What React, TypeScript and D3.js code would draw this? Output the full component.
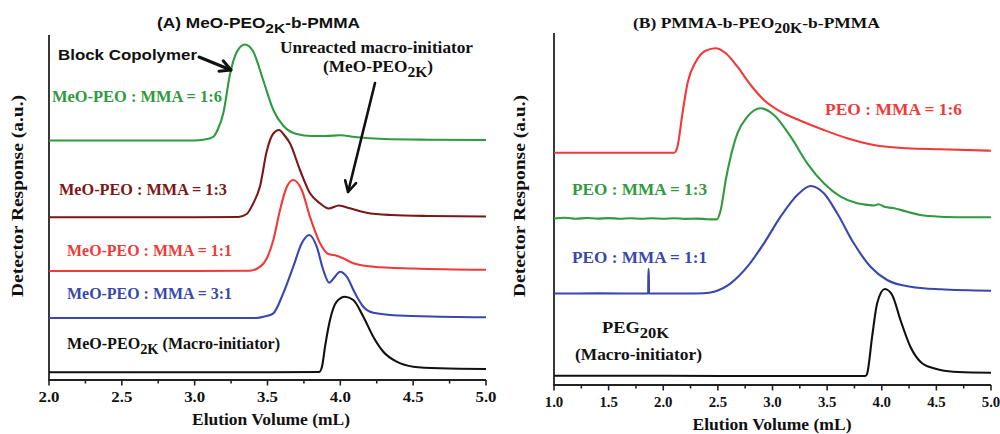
import React from "react";
import * as d3 from "d3";

// ---------- Data (elution volume in mL, detector response in a.u.) ----------
// Panel A: MeO-PEO2K-b-PMMA
const a16: [number, number][] = [
  [2.0, 239.5], [2.5, 239.5], [3.0, 239.5], [3.06, 240.3], [3.1, 241.5], [3.13, 243.5], [3.16, 251],
  [3.197, 267], [3.243, 306], [3.289, 328], [3.345, 335.5], [3.4, 329], [3.47, 300], [3.54, 270],
  [3.61, 254], [3.7, 246], [3.8, 244], [3.9, 244], [4.0, 244.8], [4.1, 243], [4.3, 241], [4.6, 240.3], [5.0, 240],
];
const a13: [number, number][] = [
  [2.0, 162.7], [3.0, 162.7], [3.3, 163], [3.357, 166], [3.4, 176], [3.449, 194], [3.495, 229],
  [3.54, 246.5], [3.579, 250], [3.62, 244], [3.654, 236.7], [3.723, 210], [3.792, 186.7], [3.86, 176.7],
  [3.92, 171.5], [3.99, 174.5], [4.066, 171.7], [4.18, 167.3], [4.35, 165], [4.6, 164], [5.0, 163.5],
];
const a11: [number, number][] = [
  [2.0, 109], [3.0, 109], [3.38, 109.3], [3.43, 111.5], [3.47, 116], [3.5, 123], [3.54, 140],
  [3.586, 170], [3.632, 193], [3.677, 200], [3.735, 190], [3.792, 163], [3.86, 137], [3.917, 126],
  [3.975, 124.3], [4.02, 121.7], [4.089, 116.7], [4.226, 113.3], [4.5, 111.5], [5.0, 110.2],
];
const a31: [number, number][] = [
  [2.0, 62], [3.0, 62], [3.42, 62], [3.48, 63.5], [3.54, 66.7], [3.608, 86.7], [3.677, 113.3],
  [3.735, 136.7], [3.787, 145], [3.838, 133.3], [3.883, 110], [3.924, 97.3], [3.963, 103.3],
  [3.998, 108.3], [4.044, 103.3], [4.101, 86.7], [4.158, 73.3], [4.226, 67.3], [4.4, 64.5], [4.684, 63.3], [5.0, 62.7],
];
const aMacro: [number, number][] = [
  [2.0, 7.7], [3.0, 7.7], [3.5, 7.8], [3.855, 8], [3.875, 14], [3.895, 33.3], [3.929, 60], [3.975, 78.3],
  [4.032, 83.3], [4.089, 80], [4.158, 63.3], [4.226, 43.3], [4.295, 28.3], [4.387, 18.3], [4.501, 13.3],
  [4.684, 11.7], [5.0, 11],
];

// Panel B: PMMA-b-PEO20K-b-PMMA
const b16: [number, number][] = [
  [1.0, 232.3], [2.0, 232.3], [2.1, 232.3], [2.13, 238.3], [2.176, 271.7], [2.222, 301.7], [2.298, 323.3],
  [2.389, 334.3], [2.48, 336.7], [2.572, 331.7], [2.679, 318.3], [2.8, 300], [2.922, 285], [3.074, 273.3],
  [3.257, 264.3], [3.47, 255], [3.684, 246.7], [3.927, 240], [4.232, 236.7], [4.537, 235.7], [5.0, 234.3],
];
const b13: [number, number][] = [
  [1.0, 166.5], [1.1, 167.2], [1.2, 166.2], [1.3, 167], [1.4, 166.4], [1.5, 166.9], [1.6, 166.3],
  [1.7, 166.8], [1.8, 166.2], [1.9, 166.7], [2.0, 166.3], [2.1, 166.8], [2.2, 166.1], [2.3, 166.4],
  [2.4, 165.8], [2.49, 165.6], [2.526, 175], [2.572, 205], [2.617, 228.3], [2.679, 251.7], [2.77, 268.3],
  [2.892, 276.7], [3.013, 270], [3.166, 248.3], [3.318, 221.7], [3.47, 201.7], [3.623, 188.3],
  [3.775, 181.7], [3.88, 180], [3.93, 179.5], [3.97, 180.8], [4.03, 178], [4.1, 177], [4.232, 173.3],
  [4.35, 170], [4.537, 168.3], [4.75, 167.8], [5.0, 167.7],
];
const b11: [number, number][] = [
  [1.0, 91.5], [1.4, 91.6], [1.862, 91.5], [1.864, 116], [1.868, 116], [1.87, 91.5], [2.2, 91.5],
  [2.37, 91.8], [2.465, 93.3], [2.617, 101.7], [2.77, 118.3], [2.922, 141.7], [3.074, 168.3], [3.227, 190],
  [3.349, 199], [3.47, 191.7], [3.592, 171.7], [3.744, 141.7], [3.897, 118.3], [4.049, 105], [4.262, 98.3],
  [4.537, 95.7], [5.0, 94.3],
];
const bMacro: [number, number][] = [
  [1.0, 9.3], [2.0, 9.2], [3.0, 9], [3.85, 9], [3.867, 11.7], [3.912, 48.3], [3.958, 81.7], [4.028, 96],
  [4.095, 90], [4.171, 65], [4.262, 38.3], [4.354, 23.3], [4.476, 16.7], [4.537, 15], [4.7, 13], [5.0, 12.3],
];

const xDomainA: [number, number] = [2, 5];
const xDomainB: [number, number] = [1, 5];
const tickStep = 0.25;

// ---------- Styling ----------
const SERIF = "'Liberation Serif', 'Times New Roman', serif";
const SANS = "'Liberation Sans', Arial, sans-serif";
const C_GREEN = "#2f9a3f";
const C_DRED = "#7a1717";
const C_RED = "#f03a3a";
const C_BLUE = "#3848ad";
const C_BLACK = "#111111";
const AXIS = "#222222";

type Part = { t: string; sub?: boolean };

function Label(props: {
  x: number; y: number; parts: Part[]; size: number; color?: string; family?: string;
  len?: number; anchor?: string; rotate?: boolean; subScale?: number; subDy?: number;
}) {
  const { x, y, parts, size, color = C_BLACK, family = SERIF, len, anchor = "start", rotate, subScale = 0.9, subDy = 4.5 } = props;
  let prevSub = false;
  return (
    <text
      x={x}
      y={y}
      fontFamily={family}
      fontWeight="bold"
      fontSize={size}
      fill={color}
      textAnchor={anchor}
      textLength={len}
      lengthAdjust={len ? "spacingAndGlyphs" : undefined}
      transform={rotate ? `rotate(-90 ${x} ${y})` : undefined}
    >
      {parts.map((p, i) => {
        let dy = 0;
        if (p.sub && !prevSub) dy = subDy;
        else if (!p.sub && prevSub) dy = -subDy;
        prevSub = !!p.sub;
        return (
          <tspan key={i} dy={dy || undefined} fontSize={p.sub ? size * subScale : size}>
            {p.t}
          </tspan>
        );
      })}
    </text>
  );
}

function Arrow({ x1, y1, x2, y2, w }: { x1: number; y1: number; x2: number; y2: number; w: number }) {
  const ang = Math.atan2(y2 - y1, x2 - x1);
  const L = 12;
  const spread = Math.PI / 6.5;
  const ax = x2 - L * Math.cos(ang - spread);
  const ay = y2 - L * Math.sin(ang - spread);
  const bx = x2 - L * Math.cos(ang + spread);
  const by = y2 - L * Math.sin(ang + spread);
  return (
    <g stroke={C_BLACK} strokeWidth={w} fill="none" strokeLinecap="round" strokeLinejoin="round">
      <line x1={x1} y1={y1} x2={x2} y2={y2} />
      <polyline points={`${ax},${ay} ${x2},${y2} ${bx},${by}`} />
    </g>
  );
}

function Axes({ x, y, labelY, labelLen }: { x: d3.ScaleLinear<number, number>; y: d3.ScaleLinear<number, number>; labelY: number; labelLen: number }) {
  const [d0, d1] = x.domain();
  const ticks = d3.range(d0, d1 + 1e-6, tickStep);
  const y0 = y(0);
  const [x0, x1] = x.range();
  return (
    <g>
      <line x1={x0} x2={x0} y1={y.range()[1]} y2={y0} stroke={AXIS} strokeWidth={1.8} />
      <line x1={x0 - 0.9} x2={x1} y1={y0} y2={y0} stroke={AXIS} strokeWidth={1.8} />
      {ticks.map((t, i) => {
        const major = Math.abs(t * 2 - Math.round(t * 2)) < 1e-6;
        return (
          <line key={i} x1={x(t)} x2={x(t)} y1={y0} y2={y0 + (major ? 5.5 : 3.5)} stroke={AXIS} strokeWidth={1.6} />
        );
      })}
      {ticks
        .filter((t) => Math.abs(t * 2 - Math.round(t * 2)) < 1e-6)
        .map((t, i) => (
          <text key={i} x={x(t)} y={labelY} textAnchor="middle" fontFamily={SERIF} fontWeight="bold" fontSize={14.5}
            fill={C_BLACK} textLength={labelLen} lengthAdjust="spacingAndGlyphs">
            {d3.format(".1f")(t)}
          </text>
        ))}
    </g>
  );
}

export default function App() {
  // Panel A scales
  const xA = d3.scaleLinear().domain(xDomainA).range([49, 486]);
  const yA = d3.scaleLinear().domain([0, 345]).range([380, 35]);
  // Panel B scales
  const xB = d3.scaleLinear().domain(xDomainB).range([554, 991]);
  const yB = d3.scaleLinear().domain([0, 352]).range([385, 33]);

  const lineA = d3.line<[number, number]>().x((d) => xA(d[0])).y((d) => yA(d[1])).curve(d3.curveMonotoneX);
  const lineB = d3.line<[number, number]>().x((d) => xB(d[0])).y((d) => yB(d[1])).curve(d3.curveMonotoneX);

  const seriesA = [
    { data: a16, color: C_GREEN },
    { data: a13, color: C_DRED },
    { data: a11, color: C_RED },
    { data: a31, color: C_BLUE },
    { data: aMacro, color: C_BLACK },
  ];
  const seriesB = [
    { data: b16, color: C_RED },
    { data: b13, color: C_GREEN },
    { data: b11, color: C_BLUE },
    { data: bMacro, color: C_BLACK },
  ];

  return (
    <svg width={1000} height={434} style={{ position: "absolute", left: 0, top: 0, background: "#fff" }}>
      <rect width={1000} height={434} fill="#fff" />
      {/* ---------- Panel A ---------- */}
      <Axes x={xA} y={yA} labelY={402} labelLen={21} />
      {seriesA.map((s, i) => (
        <path key={i} d={lineA(s.data) || ""} fill="none" stroke={s.color} strokeWidth={2.1} strokeLinejoin="round" />
      ))}
      <Label x={157} y={28} family={SANS} size={15} len={203}
        parts={[{ t: "(A) MeO-PEO" }, { t: "2K", sub: true }, { t: "-b-PMMA" }]} />
      <Label x={58} y={60} family={SANS} size={15.5} len={139} parts={[{ t: "Block Copolymer" }]} />
      <Arrow x1={xA(3.03)} y1={yA(323)} x2={xA(3.249)} y2={yA(310)} w={3} />
      <Label x={280} y={53} size={16} len={193} parts={[{ t: "Unreacted macro-initiator" }]} />
      <Label x={323} y={72} size={16} len={110} parts={[{ t: "(MeO-PEO" }, { t: "2K", sub: true }, { t: ")" }]} />
      <Arrow x1={xA(4.238)} y1={yA(297)} x2={xA(4.053)} y2={yA(188)} w={2.6} />
      <Label x={52} y={102} size={16.5} len={170} color={C_GREEN} parts={[{ t: "MeO-PEO : MMA = 1:6" }]} />
      <Label x={59} y={195} size={16.5} len={168} color={C_DRED} parts={[{ t: "MeO-PEO : MMA = 1:3" }]} />
      <Label x={67} y={256} size={16.5} len={165} color={C_RED} parts={[{ t: "MeO-PEO : MMA = 1:1" }]} />
      <Label x={67} y={299} size={16.5} len={165} color={C_BLUE} parts={[{ t: "MeO-PEO : MMA = 3:1" }]} />
      <Label x={67} y={349} size={16.5} len={213}
        parts={[{ t: "MeO-PEO" }, { t: "2K", sub: true }, { t: " (Macro-initiator)" }]} />
      <Label x={271} y={425} size={17.5} len={158} anchor="middle" parts={[{ t: "Elution Volume (mL)" }]} />
      <Label x={23} y={196} size={16.5} len={202} anchor="middle" rotate parts={[{ t: "Detector Response (a.u.)" }]} />

      {/* ---------- Panel B ---------- */}
      <Axes x={xB} y={yB} labelY={407} labelLen={18.5} />
      {seriesB.map((s, i) => (
        <path key={i} d={lineB(s.data) || ""} fill="none" stroke={s.color} strokeWidth={2.1} strokeLinejoin="round" />
      ))}
      <Label x={633} y={28} size={15.5} len={247}
        parts={[{ t: "(B) PMMA-b-PEO" }, { t: "20K", sub: true }, { t: "-b-PMMA" }]} />
      <Label x={825} y={115} size={17} len={137} color={C_RED} parts={[{ t: "PEO : MMA = 1:6" }]} />
      <Label x={572} y={195} size={17} len={135} color={C_GREEN} parts={[{ t: "PEO : MMA = 1:3" }]} />
      <Label x={572} y={262.5} size={17} len={135} color={C_BLUE} parts={[{ t: "PEO : MMA = 1:1" }]} />
      <Label x={602} y={333} size={17} len={67} parts={[{ t: "PEG" }, { t: "20K", sub: true }]} />
      <Label x={575} y={360} size={17} len={127} parts={[{ t: "(Macro-initiator)" }]} />
      <Label x={772} y={430} size={17.5} len={159} anchor="middle" parts={[{ t: "Elution Volume (mL)" }]} />
      <Label x={525} y={196} size={16.5} len={202} anchor="middle" rotate parts={[{ t: "Detector Response (a.u.)" }]} />
    </svg>
  );
}
